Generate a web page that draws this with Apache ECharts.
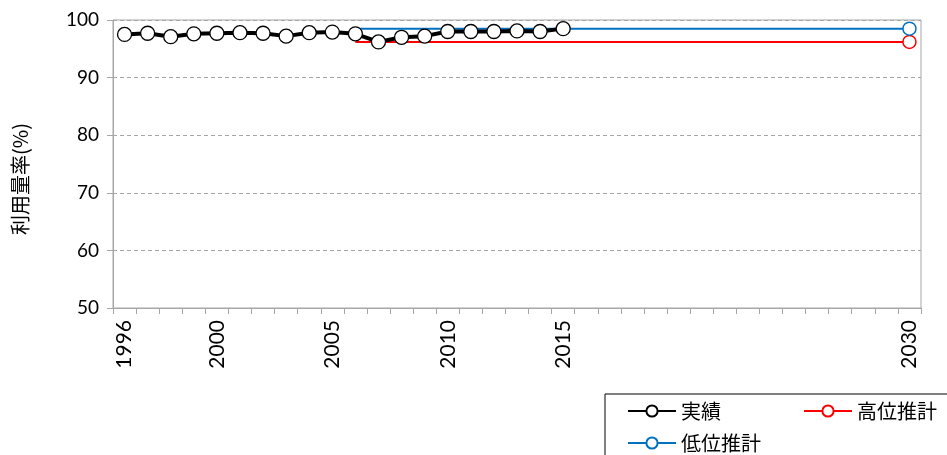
<!DOCTYPE html>
<html>
<head>
<meta charset="utf-8">
<script src="https://cdn.jsdelivr.net/npm/echarts@6/dist/echarts.min.js"></script>
<style>html,body{margin:0;padding:0;background:#fff}#c{width:947px;height:455px}</style>
</head>
<body>
<div id="c"></div>
<script>
// Categories: years 1996..2030
var years = ['1996','1997','1998','1999','2000','2001','2002','2003','2004','2005',
  '2006','2007','2008','2009','2010','2011','2012','2013','2014','2015',
  '2016','2017','2018','2019','2020','2021','2022','2023','2024','2025',
  '2026','2027','2028','2029','2030'];
var shownYearLabels = ['1996','2000','2005','2010','2015','2030'];
// 実績 (actual), 1996..2015
var actualValues = [97.5, 97.7, 97.1, 97.6, 97.7, 97.8, 97.7, 97.2, 97.8, 97.9,
  97.6, 96.2, 97.0, 97.2, 98.0, 98.0, 98.0, 98.1, 98.0, 98.5];
// 推計 (projections): start year and end year values
var projectionYears = ['2006', '2030'];
var highValues = [96.2, 96.2];
var lowValues = [98.5, 98.5];
var yTicks = [50, 60, 70, 80, 90, 100];

function buildActual() {
  return years.map(function (y, i) { return i < actualValues.length ? actualValues[i] : null; });
}
function buildProjection(vals) {
  return years.map(function (y) {
    var k = projectionYears.indexOf(y);
    if (k < 0) return null;
    if (k === 0) return { value: vals[k], symbol: 'none' };
    return vals[k];
  });
}

var chart = echarts.init(document.getElementById('c'));
var gray = '#a6a6a6';
chart.setOption({
  animation: false,
  grid: { left: 113, right: 26, top: 20, bottom: 147, show: true, borderColor: gray, borderWidth: 1 },
  xAxis: {
    type: 'category',
    data: years,
    boundaryGap: true,
    axisLine: { lineStyle: { color: gray, width: 1 } },
    axisTick: { show: true, interval: 0, length: 6, lineStyle: { color: gray } },
    axisLabel: {
      rotate: 90,
      margin: 12,
      fontFamily: 'Lato',
      fontSize: 21,
      color: '#000',
      interval: function (idx, val) { return shownYearLabels.indexOf(val) >= 0; }
    }
  },
  yAxis: {
    type: 'value',
    min: yTicks[0],
    max: yTicks[yTicks.length - 1],
    interval: 10,
    axisLine: { show: true, lineStyle: { color: gray, width: 1 } },
    axisTick: { show: true, length: 6, lineStyle: { color: gray } },
    axisLabel: { fontFamily: 'Lato', fontSize: 19, color: '#000', margin: 14 },
    splitLine: { show: true, lineStyle: { color: gray, type: [4, 3], width: 1 } }
  },
  graphic: [{
    type: 'text',
    x: 20, y: 179,
    rotation: Math.PI / 2,
    style: {
      text: '利用量率(%)',
      font: '20px "Noto Sans CJK JP"',
      fill: '#000',
      align: 'center',
      verticalAlign: 'middle'
    }
  }],
  legend: {
    left: 605,
    top: 394,
    width: 380,
    orient: 'horizontal',
    borderColor: '#000',
    borderWidth: 1,
    padding: [6, 10, 10, 22],
    itemWidth: 48,
    itemHeight: 14,
    itemGap: 10,
    textStyle: { fontFamily: 'Noto Sans CJK JP', fontSize: 20, color: '#000', width: 112, lineHeight: 22 },
    data: ['実績', '高位推計', '低位推計']
  },
  series: [
    {
      name: '高位推計', type: 'line', data: buildProjection(highValues), connectNulls: true,
      symbol: 'circle', symbolSize: 13,
      lineStyle: { color: '#ff0000', width: 2 },
      itemStyle: { color: '#fff', borderColor: '#ff0000', borderWidth: 1.5 }
    },
    {
      name: '低位推計', type: 'line', data: buildProjection(lowValues), connectNulls: true,
      symbol: 'circle', symbolSize: 13,
      lineStyle: { color: '#0070c0', width: 2 },
      itemStyle: { color: '#fff', borderColor: '#0070c0', borderWidth: 1.5 }
    },
    {
      name: '実績', type: 'line', data: buildActual(), z: 5,
      symbol: 'circle', symbolSize: 14, showAllSymbol: true,
      lineStyle: { color: '#000', width: 4 },
      itemStyle: { color: '#fff', borderColor: '#000', borderWidth: 1.3 }
    }
  ]
});
</script>
</body>
</html>
